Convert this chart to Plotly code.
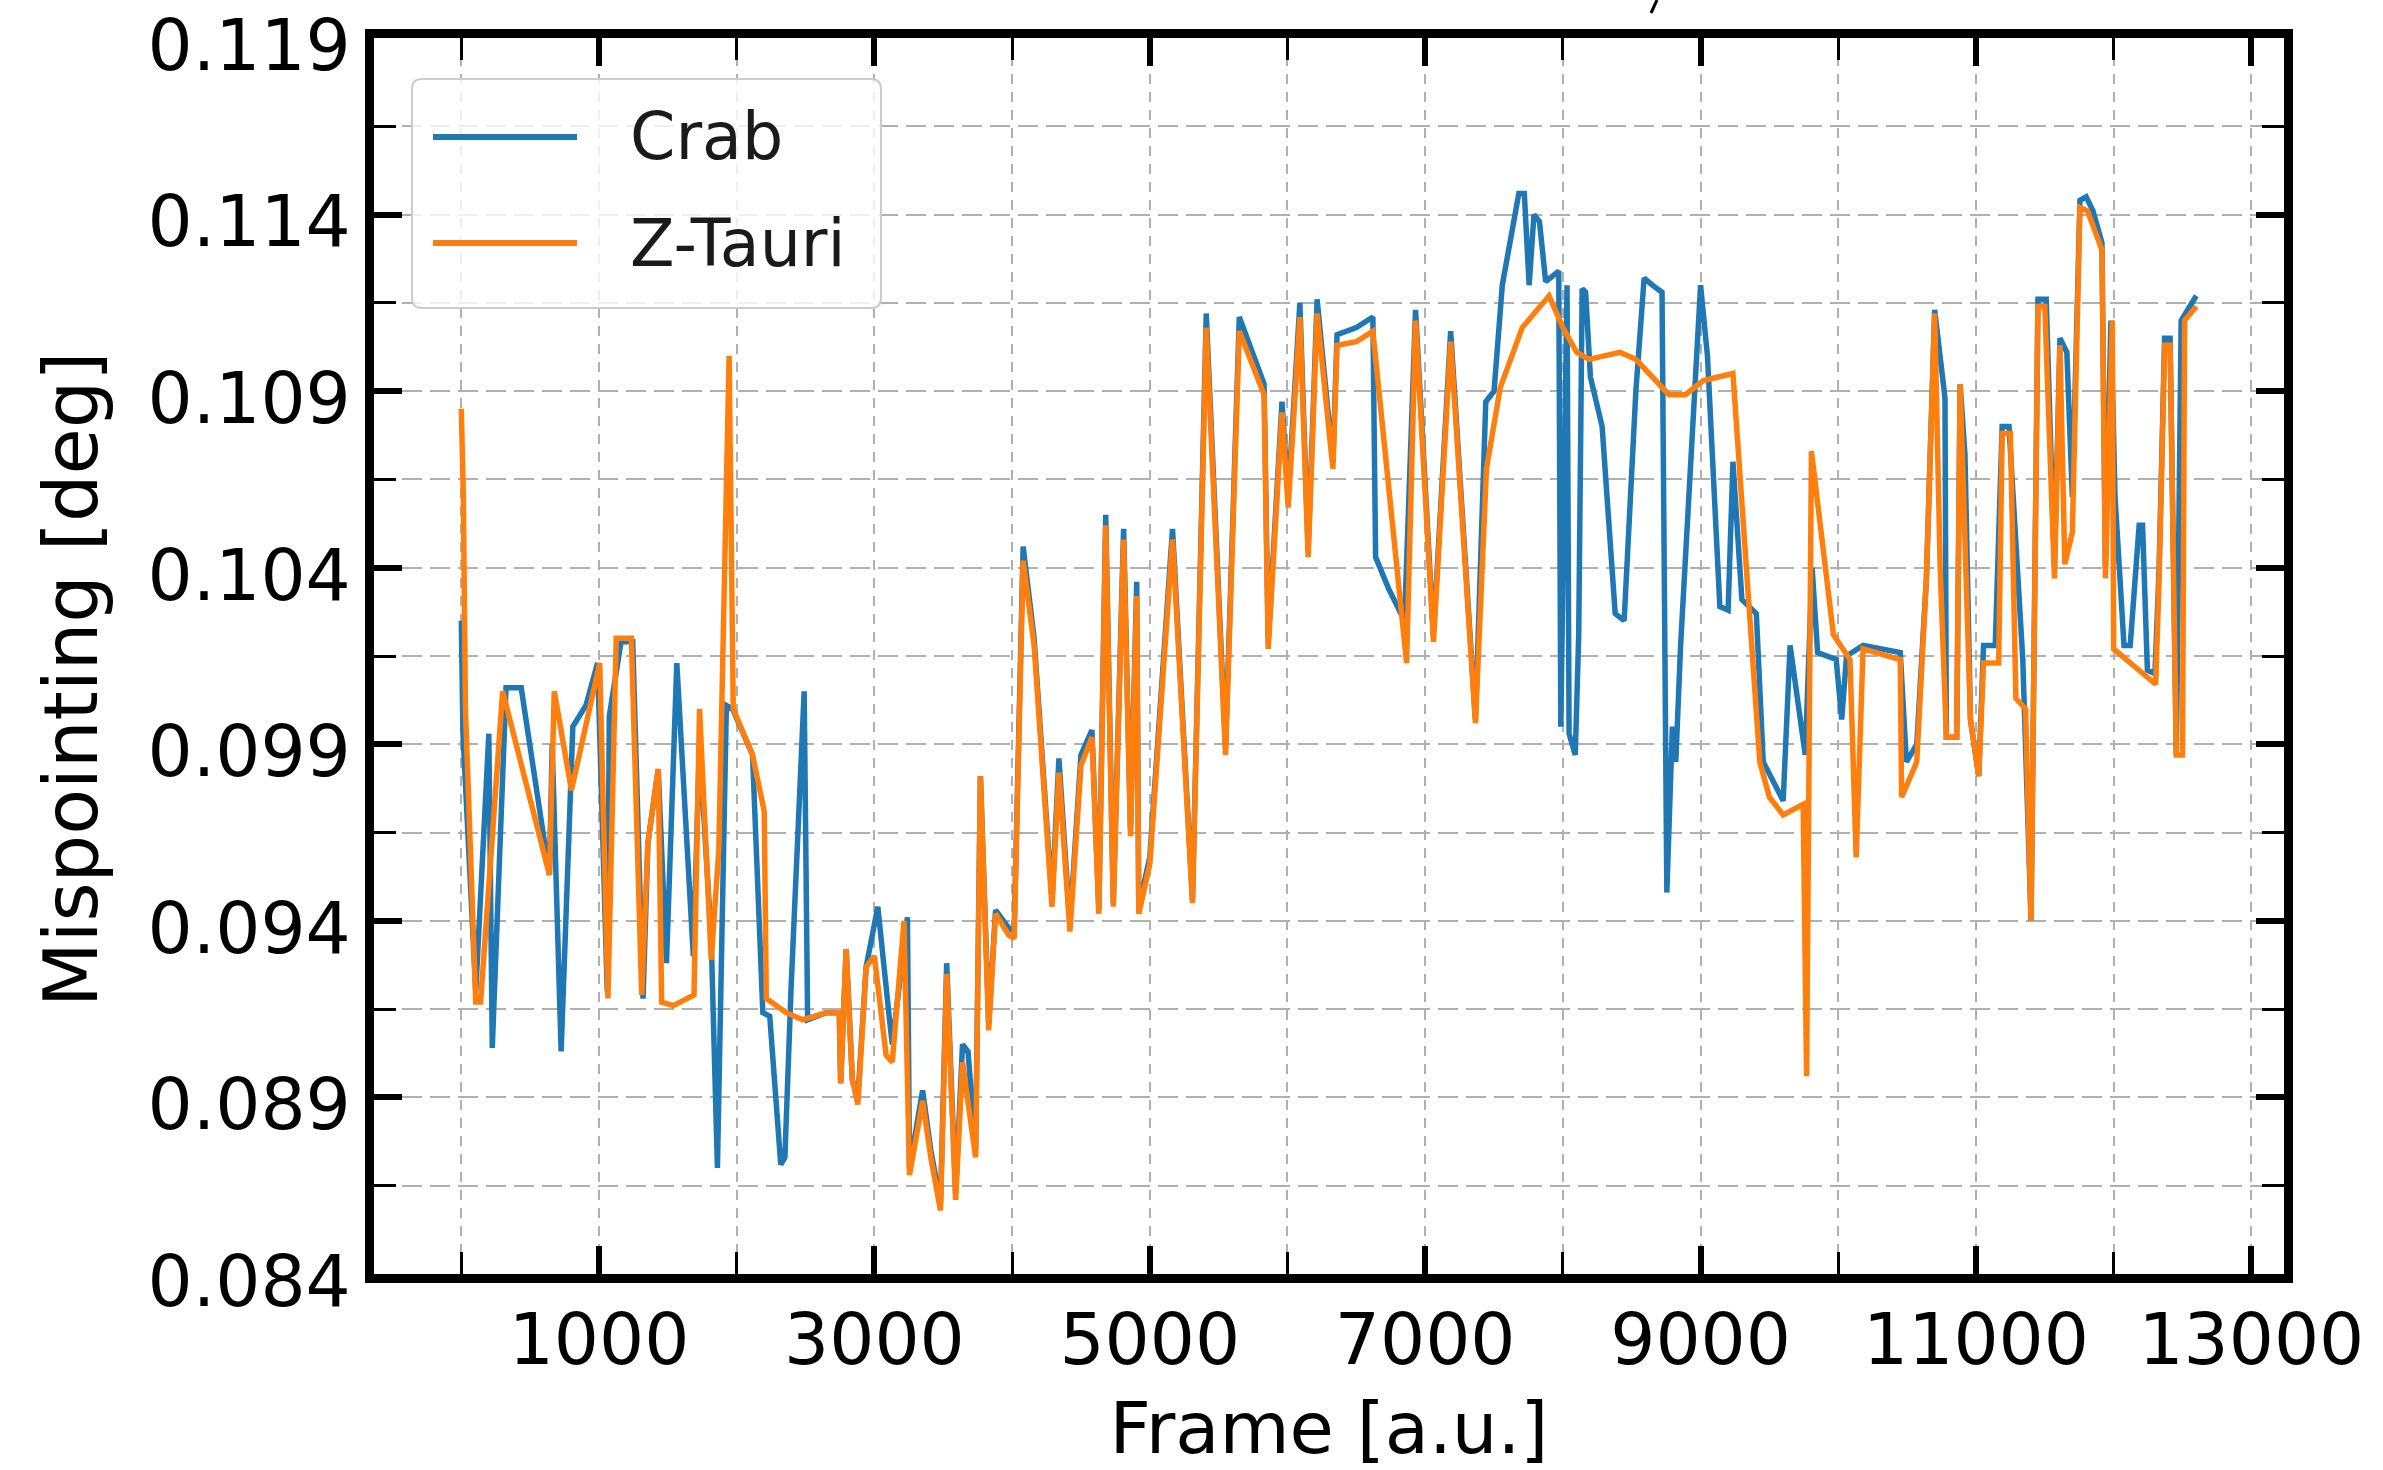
import plotly.graph_objects as go

# ---------------- data ----------------
crab_frame = [0, 12, 105, 200, 225, 325, 435, 640, 660, 725, 810, 905, 990, 1060, 1075, 1160, 1245,
              1320, 1355, 1430, 1490, 1565, 1685, 1730, 1815, 1860, 1925, 1970, 2115, 2190, 2240, 2320,
              2350, 2395, 2490, 2515, 2650, 2745, 2755, 2795, 2840, 2880, 2940, 3025, 3110, 3130, 3240,
              3255, 3350, 3410, 3480, 3525, 3590, 3640, 3680, 3735, 3770, 3830, 3880, 3975, 4015, 4080,
              4160, 4290, 4340, 4420, 4500, 4580, 4630, 4680, 4735, 4810, 4860, 4905, 4920, 5000, 5165,
              5310, 5410, 5550, 5650, 5830, 5860, 5960, 6005, 6090, 6150, 6215, 6330, 6360, 6500, 6620,
              6640, 6735, 6850, 6930, 7060, 7185, 7365, 7440, 7500, 7560, 7680, 7720, 7755, 7790, 7830,
              7875, 7970, 7985, 8030, 8045, 8090, 8115, 8140, 8165, 8200, 8285, 8380, 8445, 8530, 8590,
              8650, 8720, 8755, 8795, 8820, 8855, 9000, 9050, 9140, 9200, 9235, 9300, 9405, 9455, 9600,
              9650, 9760, 9810, 9850, 9985, 10025, 10060, 10180, 10450, 10495, 10570, 10640, 10700, 10775,
              10785, 10860, 10885, 10920, 10960, 11020, 11055, 11140, 11190, 11240, 11290, 11340, 11400,
              11450, 11510, 11570, 11610, 11660, 11700, 11755, 11800, 11850, 11915, 11940, 11980, 12010,
              12075, 12120, 12185, 12210, 12245, 12300, 12330, 12370, 12410, 12455, 12490, 12600]
crab_mis = [0.1025, 0.0993, 0.0920, 0.0993, 0.0904, 0.1006, 0.1006, 0.0953, 0.0990, 0.0903, 0.0995,
            0.1001, 0.1013, 0.0920, 0.0998, 0.1019, 0.1019, 0.0918, 0.0962, 0.0983, 0.0928, 0.1013,
            0.0930, 0.0990, 0.0935, 0.0870, 0.1001, 0.1000, 0.0987, 0.0914, 0.0913, 0.0871, 0.0873,
            0.0921, 0.1005, 0.0912, 0.0914, 0.0914, 0.0894, 0.0932, 0.0895, 0.0890, 0.0927, 0.0944,
            0.0912, 0.0905, 0.0941, 0.0870, 0.0892, 0.0875, 0.0860, 0.0928, 0.0863, 0.0905, 0.0903,
            0.0875, 0.0981, 0.0911, 0.0943, 0.0938, 0.0937, 0.1046, 0.1020, 0.0946, 0.0986, 0.0939,
            0.0987, 0.0994, 0.0943, 0.1055, 0.0945, 0.1051, 0.0966, 0.1036, 0.0944, 0.0958, 0.1051,
            0.0946, 0.1112, 0.0989, 0.1111, 0.1092, 0.1019, 0.1087, 0.1060, 0.1115, 0.1045, 0.1116,
            0.1070, 0.1106, 0.1108, 0.1111, 0.1043, 0.1034, 0.1025, 0.1113, 0.1021, 0.1107, 0.0997,
            0.1087, 0.1090, 0.1120, 0.1146, 0.1146, 0.1120, 0.1140, 0.1138, 0.1121, 0.1124, 0.0995,
            0.1120, 0.0993, 0.0987, 0.1021, 0.1119, 0.1118, 0.1094, 0.1080, 0.1027, 0.1025, 0.1090,
            0.1122, 0.1120, 0.1118, 0.0948, 0.0995, 0.0985, 0.1018, 0.1120, 0.1100, 0.1029, 0.1028,
            0.1070, 0.1031, 0.1027, 0.0985, 0.0974, 0.1018, 0.0987, 0.1040, 0.1016, 0.1014, 0.0997,
            0.1015, 0.1018, 0.1016, 0.0985, 0.0990, 0.1037, 0.1113, 0.1088, 0.0992, 0.0992, 0.1092,
            0.1072, 0.0997, 0.0981, 0.1018, 0.1018, 0.1080, 0.1080, 0.1048, 0.1014, 0.0940, 0.1116,
            0.1116, 0.1040, 0.1105, 0.1101, 0.1060, 0.1144, 0.1145, 0.1141, 0.1132, 0.1040, 0.1110,
            0.1060, 0.1018, 0.1018, 0.1052, 0.1052, 0.1011, 0.1010, 0.1040, 0.1105, 0.1105, 0.0987,
            0.1110, 0.1117]

ztauri_frame = [0, 15, 30, 105, 140, 190, 300, 640, 675, 800, 1005, 1065, 1125, 1235, 1310, 1355,
                1430, 1455, 1540, 1690, 1730, 1815, 1870, 1945, 1975, 2115, 2200, 2215, 2360, 2480,
                2650, 2745, 2755, 2795, 2840, 2880, 2940, 3000, 3085, 3130, 3215, 3255, 3350, 3410,
                3480, 3525, 3590, 3640, 3680, 3735, 3770, 3830, 3880, 3975, 4015, 4080, 4160, 4290,
                4340, 4420, 4500, 4580, 4630, 4680, 4735, 4810, 4860, 4905, 4920, 5000, 5165, 5310,
                5410, 5550, 5650, 5830, 5860, 5960, 6005, 6090, 6150, 6215, 6330, 6360, 6500, 6620,
                6865, 6930, 7060, 7185, 7365, 7445, 7545, 7705, 7900, 8000, 8100, 8190, 8300, 8415,
                8530, 8650, 8770, 8890, 9020, 9235, 9335, 9430, 9500, 9600, 9745, 9770, 9805, 9965,
                10085, 10130, 10180, 10450, 10460, 10570, 10640, 10700, 10740, 10785, 10860, 10885,
                10960, 11020, 11055, 11165, 11190, 11250, 11290, 11360, 11400, 11450, 11500, 11570,
                11610, 11645, 11700, 11755, 11810, 11915, 11940, 11990, 12000, 12305, 12330, 12370,
                12410, 12455, 12500, 12515, 12600]
ztauri_mis = [0.1085, 0.1060, 0.1000, 0.0917, 0.0917, 0.0944, 0.1005, 0.0953, 0.1005, 0.0977,
              0.1013, 0.0918, 0.1020, 0.1020, 0.0919, 0.0962, 0.0983, 0.0917, 0.0916, 0.0919,
              0.1000, 0.0929, 0.0960, 0.1100, 0.1000, 0.0987, 0.0971, 0.0918, 0.0914, 0.0912,
              0.0914, 0.0914, 0.0894, 0.0932, 0.0895, 0.0888, 0.0927, 0.0930, 0.0902, 0.0900,
              0.0940, 0.0868, 0.0889, 0.0873, 0.0858, 0.0925, 0.0861, 0.0900, 0.0889, 0.0873,
              0.0981, 0.0909, 0.0942, 0.0936, 0.0935, 0.1042, 0.1018, 0.0944, 0.0982, 0.0937,
              0.0984, 0.0992, 0.0942, 0.1052, 0.0944, 0.1048, 0.0964, 0.1032, 0.0942, 0.0956,
              0.1048, 0.0945, 0.1108, 0.0987, 0.1107, 0.1089, 0.1017, 0.1084, 0.1057, 0.1111,
              0.1043, 0.1112, 0.1068, 0.1103, 0.1104, 0.1107, 0.1013, 0.1110, 0.1019, 0.1104,
              0.0996, 0.1068, 0.1091, 0.1108, 0.1117, 0.1108, 0.1101, 0.1099, 0.1100, 0.1101,
              0.1099, 0.1094, 0.1089, 0.1089, 0.1093, 0.1095, 0.1037, 0.0985, 0.0975, 0.0970,
              0.0973, 0.0896, 0.1073, 0.1021, 0.1014, 0.0958, 0.1017, 0.1014, 0.0975, 0.0985,
              0.1037, 0.1112, 0.1040, 0.0992, 0.0992, 0.1092, 0.0997, 0.0981, 0.1013, 0.1013,
              0.1078, 0.1078, 0.1003, 0.1000, 0.0940, 0.1114, 0.1114, 0.1037, 0.1103, 0.1041,
              0.1050, 0.1142, 0.1141, 0.1130, 0.1037, 0.1110, 0.1017, 0.1007, 0.1037, 0.1103,
              0.1103, 0.0987, 0.0987, 0.1110, 0.1114]

series_names = ["Crab", "Z-Tauri"]
x_tick_values = [1000, 3000, 5000, 7000, 9000, 11000, 13000]
y_tick_values = [0.084, 0.089, 0.094, 0.099, 0.104, 0.109, 0.114, 0.119]
x_label = "Frame [a.u.]"
y_label = "Mispointing [deg]"

# ---------------- styling ----------------
W, H = 2383, 1470
L, R, T, B = 374, 2284, 38, 1274          # plot area in pixels
BLUE, ORANGE = "#1f77b4", "#ff7f0e"
FONT = "DejaVu Sans"


def px2paper(px, py):
    return (px - L) / (R - L), (B - py) / (B - T)


fig = go.Figure()
fig.add_trace(go.Scatter(x=crab_frame, y=crab_mis, mode="lines", name=series_names[0],
                         line=dict(color=BLUE, width=5.5), showlegend=False))
fig.add_trace(go.Scatter(x=ztauri_frame, y=ztauri_mis, mode="lines", name=series_names[1],
                         line=dict(color=ORANGE, width=5.5), showlegend=False))

grid_col = "#b0b0b0"
fig.update_xaxes(
    range=[-634, 13237], tickmode="array", tickvals=x_tick_values,
    ticktext=[str(v) for v in x_tick_values],
    showgrid=True, gridcolor=grid_col, gridwidth=2, griddash="10px,8px",
    ticks="inside", ticklen=28, tickwidth=6, tickcolor="black",
    showline=True, linewidth=9, linecolor="black", mirror="ticks",
    zeroline=False,
    minor=dict(dtick=1000, tick0=0, showgrid=True, gridcolor=grid_col, gridwidth=2,
               griddash="10px,8px", ticks="inside", ticklen=22, tickwidth=3, tickcolor="black"),
    tickfont=dict(family=FONT, size=71, color="black"),
    ticklabelstandoff=-4, ticklabeloverflow="allow",
    title=dict(text=x_label, font=dict(family=FONT, size=72, color="black"), standoff=34),
    automargin=False,
)
fig.update_yaxes(
    range=[0.0839999, 0.1190001], tickmode="array", tickvals=y_tick_values,
    ticktext=[f"{v:.3f}" for v in y_tick_values],
    showgrid=True, gridcolor=grid_col, gridwidth=2, griddash="20px,8px",
    ticks="inside", ticklen=28, tickwidth=6, tickcolor="black",
    showline=True, linewidth=9, linecolor="black", mirror="ticks",
    zeroline=False,
    minor=dict(dtick=0.0025, tick0=0.084, showgrid=True, gridcolor=grid_col, gridwidth=2,
               griddash="20px,8px", ticks="inside", ticklen=22, tickwidth=3, tickcolor="black"),
    tickfont=dict(family=FONT, size=71, color="black"),
    ticklabeloverflow="allow", ticklabelshift=7,
    automargin=False,
)

# ---------------- legend (drawn by hand to match the long line samples) ----------------
shapes = []
annotations = []
bx0, by0, bx1, by1, rad = 412, 79, 881, 308, 10
x0p, y0p = px2paper(bx0, by0)
x1p, y1p = px2paper(bx1, by1)
rx = rad / (R - L)
ry = rad / (B - T)
path = (f"M {x0p + rx},{y0p} L {x1p - rx},{y0p} Q {x1p},{y0p} {x1p},{y0p - ry} "
        f"L {x1p},{y1p + ry} Q {x1p},{y1p} {x1p - rx},{y1p} "
        f"L {x0p + rx},{y1p} Q {x0p},{y1p} {x0p},{y1p + ry} "
        f"L {x0p},{y0p - ry} Q {x0p},{y0p} {x0p + rx},{y0p} Z")
shapes.append(dict(type="path", xref="paper", yref="paper", path=path,
                   fillcolor="rgba(255,255,255,0.8)", line=dict(color="#cccccc", width=2),
                   layer="above"))
for name, col, ypx in [(series_names[0], BLUE, 137), (series_names[1], ORANGE, 243)]:
    lx0, ly = px2paper(433, ypx)
    lx1, _ = px2paper(577, ypx)
    shapes.append(dict(type="line", xref="paper", yref="paper", x0=lx0, x1=lx1, y0=ly, y1=ly,
                       line=dict(color=col, width=6), layer="above"))
    tx, _ = px2paper(628, ypx)
    annotations.append(dict(text=name, xref="paper", yref="paper", x=tx, y=ly, xanchor="left",
                            yanchor="middle", showarrow=False,
                            font=dict(family=FONT, size=65, color="#1a1a1a")))

# y-axis title placed as in the reference
ytx, yty = px2paper(71, 679)
annotations.append(dict(text=y_label, xref="paper", yref="paper", x=ytx, y=yty, xanchor="center",
                        yanchor="middle", textangle=-90, showarrow=False,
                        font=dict(family=FONT, size=75, color="black")))

# stray stroke at the top (cropped glyph of the original figure)
sx0, sy0 = px2paper(1657, 0)
sx1, sy1 = px2paper(1651, 13)
shapes.append(dict(type="line", xref="paper", yref="paper", x0=sx0, y0=sy0, x1=sx1, y1=sy1,
                   line=dict(color="black", width=3)))

fig.update_layout(
    width=W, height=H,
    margin=dict(l=L, r=W - R, t=T, b=H - B, pad=0),
    paper_bgcolor="white", plot_bgcolor="white",
    shapes=shapes, annotations=annotations,
    showlegend=False,
    font=dict(family=FONT, color="black"),
)

fig.write_html("out.html")
